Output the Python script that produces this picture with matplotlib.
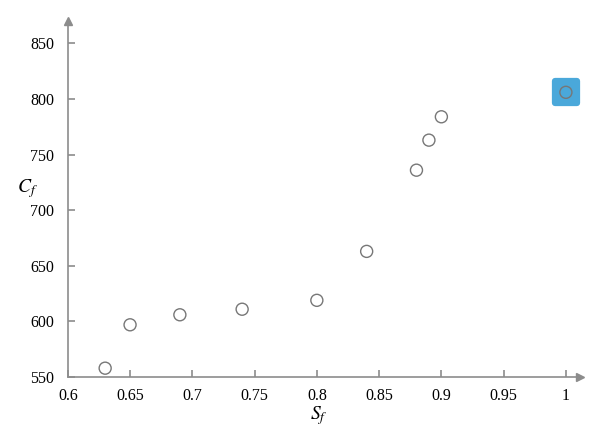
import matplotlib.pyplot as plt

sf = [0.63, 0.65, 0.69, 0.74, 0.80, 0.84, 0.88, 0.89, 0.90, 1.00]
cf = [558, 597, 606, 611, 619, 663, 736, 763, 784, 806]

plt.rcParams['font.family'] = ['Liberation Serif', 'DejaVu Serif']
plt.rcParams['mathtext.fontset'] = 'stix'
grey = '#8c8c8c'

fig = plt.figure(figsize=(6, 4.4), dpi=100)
ax = fig.add_axes([0.113, 0.143, 0.853, 0.809])
ax.set_xlim(0.6, 1.011)
ax.set_ylim(550, 870)

# highlight box behind the last point
hl = ax.scatter([sf[-1]], [cf[-1]], s=250, marker='s', color='#4aa8da', zorder=1,
                linewidths=4.5, edgecolors='#4aa8da', clip_on=False)
hl.set_joinstyle('round')
ax.scatter(sf, cf, s=75, facecolors='none', edgecolors='#777777', linewidths=1.0,
           zorder=2, clip_on=False)

for s in ['top', 'right']:
    ax.spines[s].set_visible(False)
for s in ['left', 'bottom']:
    ax.spines[s].set_color(grey)
    ax.spines[s].set_linewidth(1.2)

ax.plot(1, 0, '>', transform=ax.transAxes, color=grey, ms=6, clip_on=False)
ax.plot(0, 1, '^', transform=ax.transAxes, color=grey, ms=6, clip_on=False)

ax.set_xticks([0.6, 0.65, 0.7, 0.75, 0.8, 0.85, 0.9, 0.95, 1])
ax.set_xticklabels(['0.6', '0.65', '0.7', '0.75', '0.8', '0.85', '0.9', '0.95', '1'])
ax.set_yticks([550, 600, 650, 700, 750, 800, 850])
ax.tick_params(direction='in', color=grey, length=5, width=1.2, labelsize=11.5)
ax.tick_params(axis='x', pad=8)
ax.tick_params(axis='y', pad=10)

ax.set_xlabel('$S_f$', fontsize=14)
ax.set_ylabel('$C_f$', fontsize=14, rotation=0, va='center', ha='center')
ax.xaxis.set_label_coords(0.49, -0.075)
ax.yaxis.set_label_coords(-0.078, 0.53)

fig.savefig('out.png')
